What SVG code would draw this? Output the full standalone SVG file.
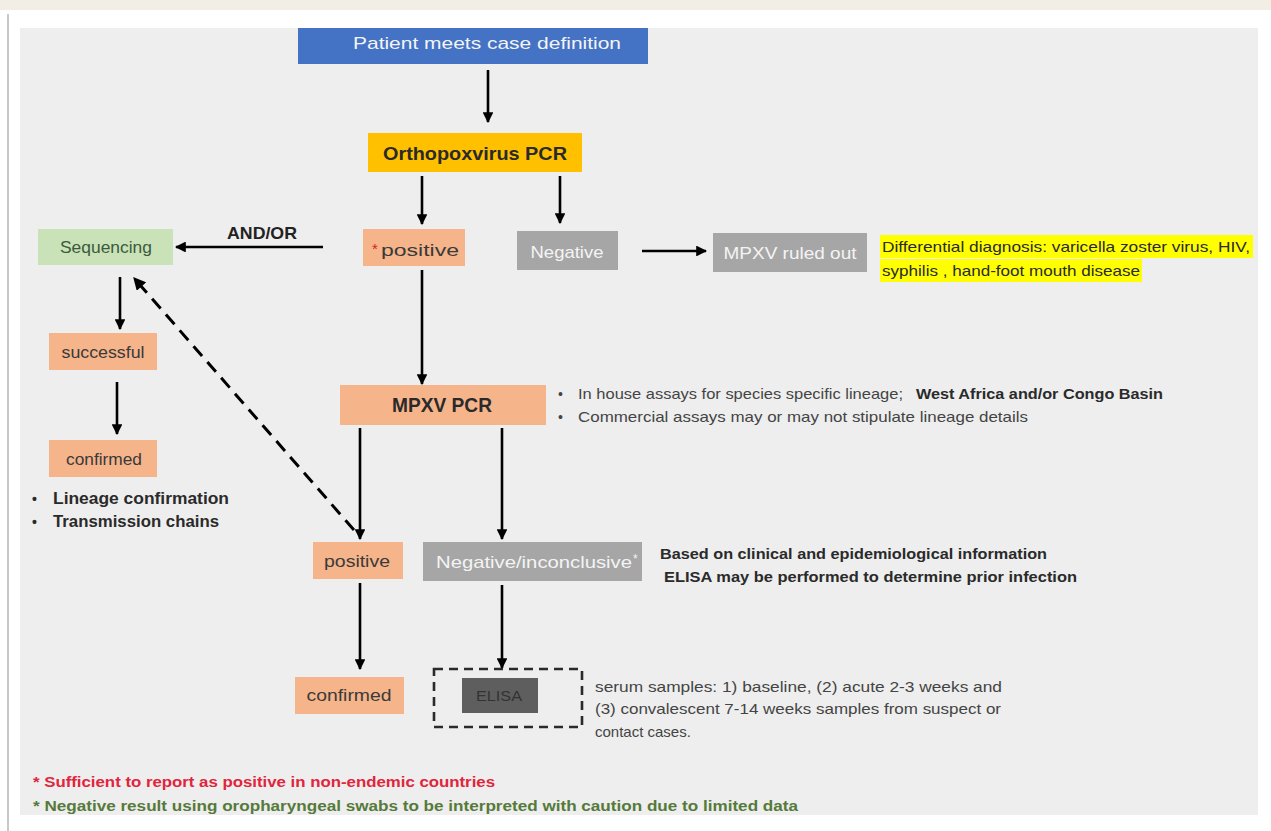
<svg xmlns="http://www.w3.org/2000/svg" width="1271" height="831" viewBox="0 0 1271 831">
<defs>
<marker id="ah" viewBox="0 0 10 10" refX="9" refY="5" markerWidth="4.4" markerHeight="4.2" orient="auto" markerUnits="strokeWidth">
<path d="M0,0 L10,5 L0,10 z" fill="#000"/>
</marker>
<style>
text{font-family:"Liberation Sans",Arial,sans-serif;}
.c{stroke:#000;stroke-width:2.6;fill:none;marker-end:url(#ah);}
.d{stroke:#000;stroke-width:3;fill:none;stroke-dasharray:13 8;marker-end:url(#ah);}
.or{fill:#f6b48a;}
.gr{fill:#a6a6a6;}
.t{fill:#3a3a3a;}
.w{fill:#f4f4f4;}
.b{font-weight:bold;}
.note{fill:#2a2a2a;}
.serum{fill:#444;}
</style>
</defs>
<rect x="0" y="0" width="1271" height="831" fill="#ffffff"/>
<rect x="0" y="0" width="1271" height="10" fill="#f3eee5"/>
<line x1="8" y1="14" x2="8" y2="831" stroke="#c8c8c8" stroke-width="2"/>
<rect x="20" y="28" width="1238" height="787" fill="#eeeeee"/>

<g id="connectors">
<line class="c" x1="488" y1="70" x2="488" y2="122"/>
<line class="c" x1="422" y1="176" x2="422" y2="224"/>
<line class="c" x1="560" y1="176" x2="560" y2="223"/>
<line class="c" x1="642" y1="251" x2="706" y2="251"/>
<line class="c" x1="323" y1="247" x2="176" y2="247"/>
<line class="c" x1="120" y1="277" x2="120" y2="329"/>
<line class="c" x1="117" y1="382" x2="117" y2="434"/>
<line class="c" x1="422" y1="270" x2="422" y2="384"/>
<line class="c" x1="360" y1="428" x2="360" y2="539"/>
<line class="c" x1="502" y1="428" x2="502" y2="539"/>
<line class="d" x1="354" y1="530" x2="134" y2="278"/>
<line class="c" x1="360" y1="583" x2="360" y2="669"/>
<line class="c" x1="502" y1="585" x2="502" y2="668"/>
<text x="262" y="239" text-anchor="middle" class="b" font-size="17" fill="#222" textLength="70" lengthAdjust="spacingAndGlyphs">AND/OR</text>
</g>

<g id="patient">
<rect x="298" y="28" width="350" height="36" fill="#4472c4"/>
<text x="487" y="49" text-anchor="middle" class="w" font-size="17" textLength="268" lengthAdjust="spacingAndGlyphs">Patient meets case definition</text>
</g>

<g id="orthopcr">
<rect x="368" y="133" width="214" height="39" fill="#ffc000"/>
<text x="475" y="160" text-anchor="middle" class="b" font-size="19" fill="#2a2a2a" textLength="184" lengthAdjust="spacingAndGlyphs">Orthopoxvirus PCR</text>
</g>

<g id="positive1">
<rect x="363" y="229" width="102" height="37" class="or"/>
<text x="372" y="254" fill="#e02020" font-size="15">*</text>
<text x="381" y="256" class="t" font-size="17" textLength="78" lengthAdjust="spacingAndGlyphs">positive</text>
</g>

<g id="negative1">
<rect x="517" y="231" width="101" height="39" class="gr"/>
<text x="567" y="258" text-anchor="middle" class="w" font-size="17" textLength="73" lengthAdjust="spacingAndGlyphs">Negative</text>
</g>

<g id="ruledout">
<rect x="713" y="233" width="154" height="39" class="gr"/>
<text x="790" y="259" text-anchor="middle" class="w" font-size="17" textLength="133" lengthAdjust="spacingAndGlyphs">MPXV ruled out</text>
</g>

<g id="differential">
<rect x="880" y="235" width="373" height="23" fill="#ffff00"/>
<rect x="880" y="259" width="262" height="23" fill="#ffff00"/>
<text x="882" y="252" class="note" font-size="15" textLength="368" lengthAdjust="spacingAndGlyphs">Differential diagnosis: varicella zoster virus, HIV,</text>
<text x="882" y="276" class="note" font-size="15" textLength="258" lengthAdjust="spacingAndGlyphs">syphilis , hand-foot mouth disease</text>
</g>

<g id="sequencing">
<rect x="38" y="229" width="135" height="36" fill="#c9e2b8"/>
<text x="106" y="253" text-anchor="middle" font-size="17" fill="#3d5a3d" textLength="92" lengthAdjust="spacingAndGlyphs">Sequencing</text>
</g>

<g id="successful">
<rect x="49" y="333" width="108" height="37" class="or"/>
<text x="103" y="358" text-anchor="middle" class="t" font-size="17" textLength="83" lengthAdjust="spacingAndGlyphs">successful</text>
</g>

<g id="confirmed1">
<rect x="49" y="440" width="108" height="37" class="or"/>
<text x="104" y="465" text-anchor="middle" class="t" font-size="17" textLength="76" lengthAdjust="spacingAndGlyphs">confirmed</text>
<text x="32" y="504" class="note b" font-size="14">•</text>
<text x="53" y="504" class="note b" font-size="16" textLength="176" lengthAdjust="spacingAndGlyphs">Lineage confirmation</text>
<text x="32" y="527" class="note b" font-size="14">•</text>
<text x="53" y="527" class="note b" font-size="16" textLength="166" lengthAdjust="spacingAndGlyphs">Transmission  chains</text>
</g>

<g id="mpxvpcr">
<rect x="340" y="385" width="206" height="40" class="or"/>
<text x="442" y="412" text-anchor="middle" class="b" font-size="20" fill="#2a2a2a" textLength="100" lengthAdjust="spacingAndGlyphs">MPXV PCR</text>
<text x="558" y="399" class="serum" font-size="14">•</text>
<text x="578" y="399" class="serum" font-size="15" textLength="325" lengthAdjust="spacingAndGlyphs">In house assays for species specific lineage;</text>
<text x="916" y="399" class="note b" font-size="15" textLength="247" lengthAdjust="spacingAndGlyphs">West Africa and/or Congo Basin</text>
<text x="558" y="422" class="serum" font-size="14">•</text>
<text x="578" y="422" class="serum" font-size="15" textLength="450" lengthAdjust="spacingAndGlyphs">Commercial assays may or may not stipulate lineage details</text>
</g>

<g id="positive2">
<rect x="313" y="542" width="90" height="37" class="or"/>
<text x="357" y="567" text-anchor="middle" class="t" font-size="17" textLength="66" lengthAdjust="spacingAndGlyphs">positive</text>
</g>

<g id="inconclusive">
<rect x="423" y="542" width="219" height="39" class="gr"/>
<text x="436" y="568" class="w" font-size="17" textLength="196" lengthAdjust="spacingAndGlyphs">Negative/inconclusive</text>
<text x="633" y="563" class="w" font-size="12">*</text>
<text x="660" y="559" class="note b" font-size="15" textLength="387" lengthAdjust="spacingAndGlyphs">Based on clinical and epidemiological information</text>
<text x="664" y="582" class="note b" font-size="15" textLength="413" lengthAdjust="spacingAndGlyphs">ELISA may be performed to determine prior infection</text>
</g>

<g id="confirmed2">
<rect x="295" y="677" width="109" height="37" class="or"/>
<text x="349" y="701" text-anchor="middle" class="t" font-size="17" textLength="85" lengthAdjust="spacingAndGlyphs">confirmed</text>
</g>

<g id="elisa">
<rect x="434" y="669" width="148" height="58" fill="none" stroke="#2a2a2a" stroke-width="2.6" stroke-dasharray="9 6"/>
<rect x="462" y="678" width="76" height="35" fill="#5e5e5e"/>
<text x="499" y="701" text-anchor="middle" font-size="15" fill="#333" textLength="46" lengthAdjust="spacingAndGlyphs">ELISA</text>
<text x="595" y="692" class="serum" font-size="15" textLength="407" lengthAdjust="spacingAndGlyphs">serum samples: 1) baseline, (2) acute 2-3 weeks and</text>
<text x="595" y="714" class="serum" font-size="15" textLength="406" lengthAdjust="spacingAndGlyphs">(3) convalescent 7-14 weeks samples from suspect or</text>
<text x="595" y="737" class="serum" font-size="15">contact cases.</text>
</g>

<g id="footnotes">
<text x="33" y="787" font-size="14" font-weight="bold" fill="#e0253c" textLength="462" lengthAdjust="spacingAndGlyphs">* Sufficient to report as positive in non-endemic countries</text>
<text x="33" y="811" font-size="14" font-weight="bold" fill="#557a3a" textLength="765" lengthAdjust="spacingAndGlyphs">* Negative result using oropharyngeal swabs to be interpreted with caution due to limited data</text>
</g>
</svg>
